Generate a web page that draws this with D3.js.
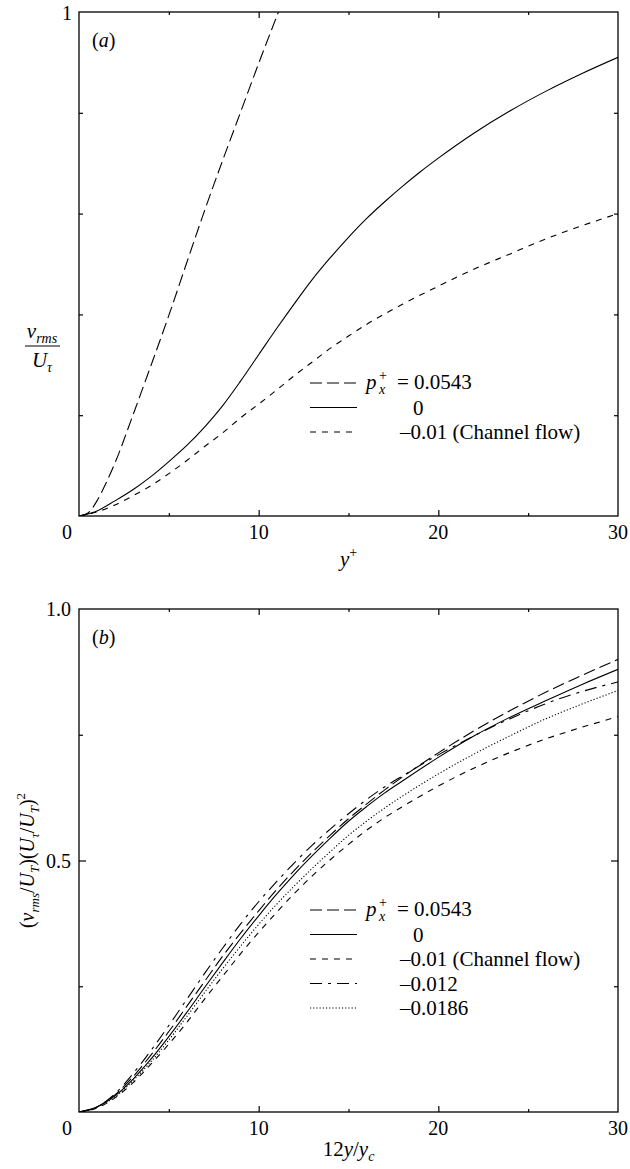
<!DOCTYPE html>
<html>
<head>
<meta charset="utf-8">
<script src="https://cdn.jsdelivr.net/npm/d3@7"></script>
<style>
  body { margin: 0; background: #fff; }
  svg { display: block; }
  text { font-family: "Liberation Serif", "Times New Roman", serif; fill: #000; }
</style>
</head>
<body>
<svg width="630" height="1169"></svg>
<script>
// ---- data ----
var xTicksMajor = [10, 20];
var xTicksMinor = [5, 15, 25];
var xTickLabels = ["0", "10", "20", "30"];

// panel (a): v_rms / U_tau against y+
var aX_pos = [0, 0.5, 1, 1.5, 2, 3, 4, 5, 6, 7, 8, 9, 10, 11.1];
var aY_pos = [0, 0.006, 0.03, 0.065, 0.105, 0.2, 0.298, 0.398, 0.503, 0.607, 0.706, 0.802, 0.898, 1.0];

var aX_zero = [0, 1, 2, 3, 4, 5, 6, 7, 8, 9, 10, 11, 12, 13, 14, 15, 16, 17, 18, 19, 20, 22, 24, 26, 28, 30];
var aY_zero = [0, 0.01, 0.03, 0.052, 0.078, 0.108, 0.14, 0.177, 0.219, 0.268, 0.32, 0.372, 0.422, 0.47, 0.513, 0.553, 0.59, 0.623, 0.654, 0.683, 0.71, 0.76, 0.804, 0.843, 0.878, 0.91];

var aX_chan = [0, 1, 2, 3, 4, 5, 6, 7, 8, 9, 10, 11, 12, 13, 14, 15, 16, 18, 20, 22, 24, 26, 28, 30];
var aY_chan = [0, 0.008, 0.022, 0.04, 0.06, 0.084, 0.11, 0.138, 0.165, 0.195, 0.222, 0.25, 0.279, 0.306, 0.333, 0.357, 0.38, 0.42, 0.456, 0.49, 0.52, 0.55, 0.576, 0.6];

// panel (b): scaled profile against 12y/y_c
var bX = [0, 1, 2, 3, 4, 5, 6, 7, 8, 9, 10, 11, 12, 13, 14, 15, 16, 17, 18, 20, 22, 24, 26, 28, 30];
var bY_pos   = [0, 0.01, 0.034, 0.07, 0.113, 0.16, 0.21, 0.26, 0.31, 0.356, 0.4, 0.442, 0.481, 0.517, 0.551, 0.583, 0.612, 0.64, 0.666, 0.714, 0.758, 0.798, 0.835, 0.868, 0.9];
var bY_zero  = [0, 0.01, 0.032, 0.065, 0.105, 0.15, 0.198, 0.248, 0.297, 0.345, 0.39, 0.433, 0.473, 0.51, 0.545, 0.578, 0.607, 0.634, 0.658, 0.705, 0.748, 0.785, 0.818, 0.85, 0.88];
var bY_chan  = [0, 0.008, 0.028, 0.058, 0.095, 0.135, 0.178, 0.225, 0.27, 0.315, 0.357, 0.397, 0.435, 0.47, 0.502, 0.532, 0.56, 0.585, 0.607, 0.648, 0.684, 0.715, 0.742, 0.765, 0.786];
var bY_m012  = [0, 0.01, 0.036, 0.076, 0.122, 0.172, 0.224, 0.276, 0.326, 0.374, 0.418, 0.458, 0.496, 0.531, 0.563, 0.593, 0.621, 0.646, 0.668, 0.71, 0.748, 0.782, 0.812, 0.836, 0.855];
var bY_m0186 = [0, 0.01, 0.03, 0.062, 0.1, 0.143, 0.19, 0.238, 0.285, 0.33, 0.373, 0.413, 0.45, 0.485, 0.518, 0.55, 0.578, 0.604, 0.628, 0.672, 0.712, 0.748, 0.782, 0.811, 0.838];

var legendValues = ["0", "\u20130.01 (Channel flow)", "\u20130.012", "\u20130.0186"];

var dashLong = "12,5", dashShort = "6,6", dashDot = "12,6,3,6", dashDotted = "1.2,2";

var svg = d3.select("svg");
var x = d3.scaleLinear().domain([0, 30]).range([79, 618]);

function zip(xs, ys) {
  return xs.map(function (v, i) { return [v, ys[i]]; });
}

function drawFrame(g, y, yMajor, yMinor, majorLen, minorLen) {
  var top = y.range()[1], bottom = y.range()[0];
  // inward ticks on all four sides
  g.append("g").attr("transform", "translate(0," + bottom + ")")
    .call(d3.axisBottom(x).tickValues(xTicksMajor).tickSize(-6).tickFormat(""));
  g.append("g").attr("transform", "translate(0," + bottom + ")")
    .call(d3.axisBottom(x).tickValues(xTicksMinor).tickSize(-3).tickFormat(""));
  g.append("g").attr("transform", "translate(0," + top + ")")
    .call(d3.axisTop(x).tickValues(xTicksMajor).tickSize(-6).tickFormat(""));
  g.append("g").attr("transform", "translate(0," + top + ")")
    .call(d3.axisTop(x).tickValues(xTicksMinor).tickSize(-3).tickFormat(""));
  g.append("g").attr("transform", "translate(" + x(0) + ",0)")
    .call(d3.axisLeft(y).tickValues(yMajor).tickSize(-majorLen).tickFormat(""));
  g.append("g").attr("transform", "translate(" + x(0) + ",0)")
    .call(d3.axisLeft(y).tickValues(yMinor).tickSize(-minorLen).tickFormat(""));
  g.append("g").attr("transform", "translate(" + x(30) + ",0)")
    .call(d3.axisRight(y).tickValues(yMajor).tickSize(-majorLen).tickFormat(""));
  g.append("g").attr("transform", "translate(" + x(30) + ",0)")
    .call(d3.axisRight(y).tickValues(yMinor).tickSize(-minorLen).tickFormat(""));
  g.selectAll(".domain").remove();
  g.selectAll(".tick line").attr("stroke", "#000").attr("stroke-width", 1.2);
  g.append("rect")
    .attr("x", x(0)).attr("y", top)
    .attr("width", x(30) - x(0)).attr("height", bottom - top)
    .attr("fill", "none").attr("stroke", "#000").attr("stroke-width", 1.3);

  // x tick labels
  g.selectAll(".xlab").data([0, 10, 20, 30]).enter().append("text")
    .attr("x", function (d) { return d === 0 ? x(d) - 12 : x(d); })
    .attr("y", bottom + 23)
    .attr("text-anchor", "middle")
    .attr("font-size", 20)
    .text(function (d, i) { return xTickLabels[i]; });
}

function drawCurves(g, y, series, clipId) {
  var top = y.range()[1], bottom = y.range()[0];
  g.append("clipPath").attr("id", clipId).append("rect")
    .attr("x", x(0)).attr("y", top)
    .attr("width", x(30) - x(0)).attr("height", bottom - top);
  var line = d3.line()
    .x(function (d) { return x(d[0]); })
    .y(function (d) { return y(d[1]); })
    .curve(d3.curveMonotoneX);
  series.forEach(function (s) {
    g.append("path")
      .attr("d", line(s.pts))
      .attr("clip-path", "url(#" + clipId + ")")
      .attr("fill", "none")
      .attr("stroke", "#000")
      .attr("stroke-width", 1.1)
      .attr("stroke-dasharray", s.dash);
  });
}

function drawLegend(g, series, y0) {
  var step = 24.5;
  series.forEach(function (s, i) {
    var yy = y0 + i * step;
    g.append("line")
      .attr("x1", 310).attr("x2", 357)
      .attr("y1", yy).attr("y2", yy)
      .attr("stroke", "#000").attr("stroke-width", 1.1)
      .attr("stroke-dasharray", s.dash);
    if (i === 0) {
      g.append("text").attr("x", 366).attr("y", yy + 6).attr("font-size", 21)
        .attr("font-style", "italic").text("p");
      g.append("text").attr("x", 379).attr("y", yy - 3).attr("font-size", 14).text("+");
      g.append("text").attr("x", 379).attr("y", yy + 11).attr("font-size", 14)
        .attr("font-style", "italic").text("x");
      g.append("text").attr("x", 397).attr("y", yy + 6).attr("font-size", 21).text("= 0.0543");
    } else if (i === 1) {
      g.append("text").attr("x", 413).attr("y", yy + 7).attr("font-size", 21).text(legendValues[0]);
    } else {
      g.append("text").attr("x", 400).attr("y", yy + 7).attr("font-size", 21).text(legendValues[i - 1]);
    }
  });
}

// ---------- panel (a) ----------
var ya = d3.scaleLinear().domain([0, 1]).range([516, 12]);
var ga = svg.append("g");
drawFrame(ga, ya, [], [0.2, 0.4, 0.6, 0.8], 4, 4);
var seriesA = [
  { pts: zip(aX_pos, aY_pos), dash: dashLong },
  { pts: zip(aX_zero, aY_zero), dash: null },
  { pts: zip(aX_chan, aY_chan), dash: dashShort }
];
drawCurves(ga, ya, seriesA, "clipA");
drawLegend(ga, seriesA, 383);

ga.append("text").attr("x", 72).attr("y", ya(1) + 8).attr("text-anchor", "end")
  .attr("font-size", 20).text("1");
ga.append("text").attr("x", 92).attr("y", 47).attr("font-size", 20)
  .html('(<tspan font-style="italic">a</tspan>)');
ga.append("text").attr("x", x(15)).attr("y", 566).attr("text-anchor", "middle")
  .attr("font-size", 21)
  .html('<tspan font-style="italic">y</tspan><tspan font-size="14" dy="-9">+</tspan>');
// y label as a fraction
ga.append("text").attr("x", 42).attr("y", 338).attr("text-anchor", "middle").attr("font-size", 21)
  .html('<tspan font-style="italic">v</tspan><tspan font-size="14" font-style="italic" dy="5">rms</tspan>');
ga.append("line").attr("x1", 25).attr("x2", 60).attr("y1", 346).attr("y2", 346)
  .attr("stroke", "#000").attr("stroke-width", 1);
ga.append("text").attr("x", 42).attr("y", 367).attr("text-anchor", "middle").attr("font-size", 21)
  .html('<tspan font-style="italic">U</tspan><tspan font-size="14" font-style="italic" dy="5">\u03c4</tspan>');

// ---------- panel (b) ----------
var yb = d3.scaleLinear().domain([0, 1]).range([1112, 609]);
var gb = svg.append("g");
drawFrame(gb, yb, [0.5], [0.25, 0.75], 7, 4);
var seriesB = [
  { pts: zip(bX, bY_pos), dash: dashLong },
  { pts: zip(bX, bY_zero), dash: null },
  { pts: zip(bX, bY_chan), dash: dashShort },
  { pts: zip(bX, bY_m012), dash: dashDot },
  { pts: zip(bX, bY_m0186), dash: dashDotted }
];
drawCurves(gb, yb, seriesB, "clipB");
drawLegend(gb, seriesB, 910);

gb.append("text").attr("x", 71).attr("y", yb(1) + 7).attr("text-anchor", "end")
  .attr("font-size", 20).text("1.0");
gb.append("text").attr("x", 71).attr("y", yb(0.5) + 7).attr("text-anchor", "end")
  .attr("font-size", 20).text("0.5");
gb.append("text").attr("x", 92).attr("y", 644).attr("font-size", 20)
  .html('(<tspan font-style="italic">b</tspan>)');
gb.append("text").attr("x", x(15)).attr("y", 1156).attr("text-anchor", "middle")
  .attr("font-size", 21)
  .html('12<tspan font-style="italic">y</tspan>/<tspan font-style="italic">y</tspan><tspan font-size="14" font-style="italic" dy="5">c</tspan>');
gb.append("text")
  .attr("transform", "translate(34," + yb(0.5) + ") rotate(-90)")
  .attr("text-anchor", "middle").attr("font-size", 20)
  .html('(<tspan font-style="italic">v</tspan><tspan font-size="13" font-style="italic" dy="5">rms</tspan>' +
        '<tspan dy="-5">/</tspan><tspan font-style="italic">U</tspan><tspan font-size="13" font-style="italic" dy="5">T</tspan>' +
        '<tspan dy="-5">)(</tspan><tspan font-style="italic">U</tspan><tspan font-size="13" font-style="italic" dy="5">\u03c4</tspan>' +
        '<tspan dy="-5">/</tspan><tspan font-style="italic">U</tspan><tspan font-size="13" font-style="italic" dy="5">T</tspan>' +
        '<tspan dy="-5">)</tspan><tspan font-size="13" dy="-9">2</tspan>');
</script>
</body>
</html>
